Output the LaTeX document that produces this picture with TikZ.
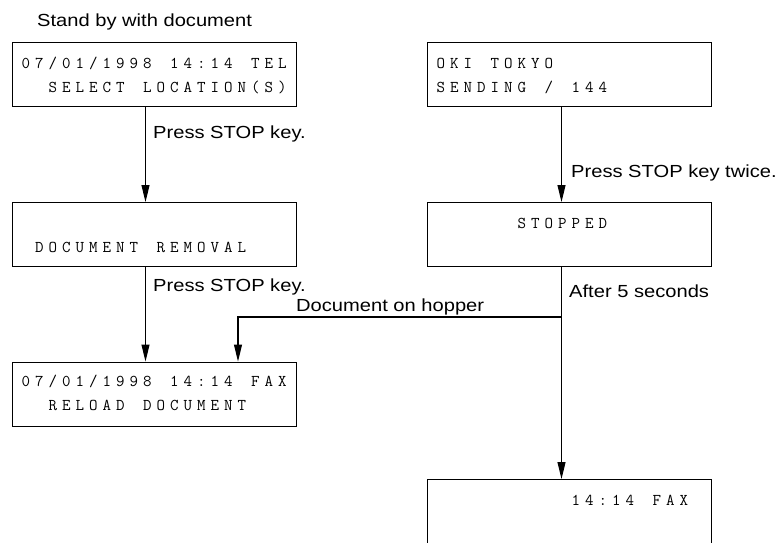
\documentclass[tikz,border=0pt]{standalone}
\usepackage{fontspec}
\setmainfont{Liberation Sans}[FakeStretch=1.15]
\newfontfamily\lcdfont{Latin Modern Mono}
\usetikzlibrary{arrows.meta}
\makeatletter
\def\lcdloop#1{\ifx#1\relax\else\hbox to 13.5pt{#1\hss}\expandafter\lcdloop\fi}
\newcommand\lcdtext[1]{\lcdfont\fontsize{16.5}{16.5}\selectfont\lcdloop#1\relax}
\makeatother
\begin{document}
\begin{tikzpicture}[x=1pt,y=-1pt,
  box/.style={draw, line width=1.1pt, minimum width=284pt, minimum height=64pt, anchor=north west, inner sep=0pt},
  lcd/.style={anchor=base west, inner sep=0pt},
  lbl/.style={anchor=base west, inner sep=0pt, font=\fontsize{17.5}{17.5}\selectfont},
  arr/.style={line width=1.1pt, -{Triangle[length=17pt,width=8pt]}},
  ln/.style={line width=1.1pt}]
\clip (0,0) rectangle (781,542);
\fill[white] (0,0) rectangle (781,542);
% columns
\coordinate (colL) at (145.5,0);
\coordinate (colR) at (561.5,0);
\coordinate (colH) at (238,0);
% boxes
\node[box] (A) at (12,42) {};
\node[box] (B) at (12,202) {};
\node[box] (C) at (12,361.5) {};
\node[box] (D) at (427,42) {};
\node[box] (E) at (427,202) {};
\node[box] (F) at (427,479) {};
% box texts
\node[lcd] (a1) at (21.5,68.5) {\lcdtext{07/01/1998~14:14~TEL}};
\node[lcd] (a2) at (48.5,92.5) {\lcdtext{SELECT~LOCATION(S)}};
\node[lcd] (b2) at (35,252.5) {\lcdtext{DOCUMENT~REMOVAL}};
\node[lcd] (c1) at (21.5,386.5) {\lcdtext{07/01/1998~14:14~FAX}};
\node[lcd] (c2) at (48.5,410.5) {\lcdtext{RELOAD~DOCUMENT}};
\node[lcd] (d1) at (436.5,68.5) {\lcdtext{OKI~TOKYO}};
\node[lcd] (d2) at (436.5,92.5) {\lcdtext{SENDING~/~144}};
\node[lcd] (e1) at (517.5,228.5) {\lcdtext{STOPPED}};
\node[lcd] (f1) at (571.5,505.5) {\lcdtext{14:14~FAX}};
% labels
\node[lbl] (t0) at (37,26) {Stand by with document};
\node[lbl] (t1) at (153,138) {Press STOP key.};
\node[lbl] (t2) at (153,291.5) {Press STOP key.};
\node[lbl] (t3) at (296,311) {Document on hopper};
\node[lbl] (t4) at (571,177) {Press STOP key twice.};
\node[lbl] (t5) at (569,297) {After 5 seconds};
% connectors
\draw[arr] (A.south -| colL) -- (B.north -| colL);
\draw[arr] (B.south -| colL) -- (C.north -| colL);
\draw[arr] (D.south -| colR) -- (E.north -| colR);
\draw[arr] (E.south -| colR) -- (F.north -| colR);
\coordinate (J) at (561.5,317);
\draw[arr] (J) -| (C.north -| colH);
\end{tikzpicture}
\end{document}
